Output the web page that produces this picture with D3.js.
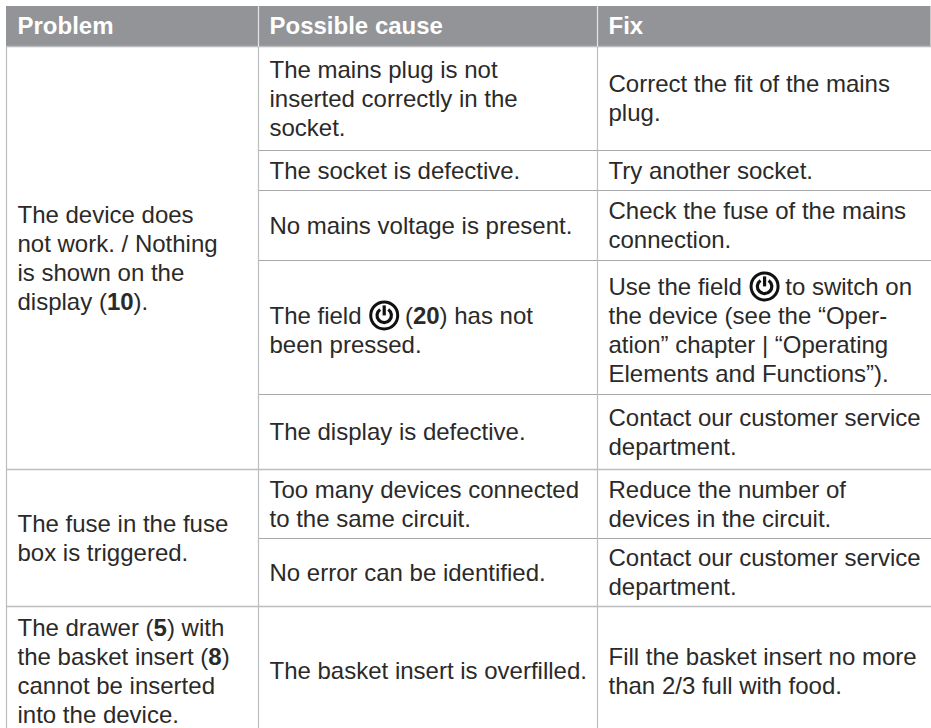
<!DOCTYPE html>
<html>
<head>
<meta charset="utf-8">
<script src="https://cdn.jsdelivr.net/npm/d3@7"></script>
<style>
html, body { margin: 0; padding: 0; background: #fff; }
svg { display: block; }
text { font-family: "Liberation Sans", Arial, sans-serif; }
</style>
</head>
<body>
<div id="chart"></div>
<script>
// table contents, {p} marks the power icon and *x* marks bold
var headers = ['Problem', 'Possible cause', 'Fix'];
var problems = [
    ['The device does', 'not work. / Nothing', 'is shown on the', 'display (*10*).'],
    ['The fuse in the fuse', 'box is triggered.'],
    ['The drawer (*5*) with', 'the basket insert (*8*)', 'cannot be inserted', 'into the device.']
];
var problemSpans = [[0, 5], [5, 7], [7, 8]];
var causes = [
    ['The mains plug is not', 'inserted correctly in the', 'socket.'],
    ['The socket is defective.'],
    ['No mains voltage is present.'],
    ['The field {p} (*20*) has not', 'been pressed.'],
    ['The display is defective.'],
    ['Too many devices connected', 'to the same circuit.'],
    ['No error can be identified.'],
    ['The basket insert is overfilled.']
];
var fixes = [
    ['Correct the fit of the mains', 'plug.'],
    ['Try another socket.'],
    ['Check the fuse of the mains', 'connection.'],
    ['Use the field {p} to switch on', 'the device (see the \u201cOper-', 'ation\u201d chapter | \u201cOperating', 'Elements and Functions\u201d).'],
    ['Contact our customer service', 'department.'],
    ['Reduce the number of', 'devices in the circuit.'],
    ['Contact our customer service', 'department.'],
    ['Fill the basket insert no more', 'than 2/3 full with food.']
];

// layout
var width = 931, height = 728;
var colEdges = [6.5, 258.5, 597.5, 931];
var rowEdges = [46.5, 150.5, 190.5, 260.5, 394.5, 469.5, 538.5, 606.5, 735];
var headerTop = 6;
var padX = 11;
var lineH = 29;
var fontSize = 24;
var iconR = 15;
var iconShift = 3; // the icon makes its line taller, pushing the block down
var textColor = '#2b2a29';
var lineColor = '#a7a8ab';
var groupColor = '#bcbdbf';

var col = d3.scaleOrdinal().domain([0, 1, 2]).range(colEdges.slice(0, 3));
var rowY = d3.scaleLinear().domain(d3.range(rowEdges.length)).range(rowEdges);

var svg = d3.select('#chart').append('svg')
    .attr('width', width)
    .attr('height', height);

// header band
svg.append('rect')
    .attr('x', colEdges[0] - 0.5)
    .attr('y', headerTop)
    .attr('width', width - colEdges[0])
    .attr('height', rowEdges[0] - headerTop)
    .attr('fill', '#929497');

svg.selectAll('.head')
    .data(headers)
    .enter()
    .append('text')
    .attr('class', 'head')
    .attr('x', function(d, i) { return col(i) + padX; })
    .attr('y', 34)
    .attr('fill', '#fff')
    .attr('font-size', fontSize)
    .attr('font-weight', 'bold')
    .text(function(d) { return d; });

// grid lines
var hLines = [];
rowEdges.slice(0, -1).forEach(function(y, i) {
    // rows inside a problem group leave the first column open
    var starts = problemSpans.some(function(s) { return s[0] === i; });
    hLines.push({x1: starts ? colEdges[0] : colEdges[1], y: y, group: starts});
});

svg.selectAll('.hline')
    .data(hLines)
    .enter()
    .append('line')
    .attr('class', 'hline')
    .attr('x1', function(d) { return d.x1; })
    .attr('x2', width)
    .attr('y1', function(d) { return d.y; })
    .attr('y2', function(d) { return d.y; })
    .attr('stroke', function(d) { return d.group ? groupColor : lineColor; })
    .attr('stroke-width', function(d) { return d.group ? 1.6 : 1; });

svg.selectAll('.vline')
    .data(colEdges.slice(0, 3))
    .enter()
    .append('line')
    .attr('class', 'vline')
    .attr('x1', function(d) { return d; })
    .attr('x2', function(d) { return d; })
    .attr('y1', rowEdges[0])
    .attr('y2', height)
    .attr('stroke', groupColor)
    .attr('stroke-width', 1.2);

// pale separators inside the header band
svg.selectAll('.hsep')
    .data(colEdges.slice(1, 3))
    .enter()
    .append('line')
    .attr('class', 'hsep')
    .attr('x1', function(d) { return d; })
    .attr('x2', function(d) { return d; })
    .attr('y1', headerTop)
    .attr('y2', rowEdges[0])
    .attr('stroke', '#e4e4e6')
    .attr('stroke-width', 1.2);

// writes one line piece by piece so bold runs and icons can sit inline
function drawLine(parent, line, x, y) {
    var parts = line.split(/(\{p\}|\*[^*]+\*)/).filter(function(s) { return s.length; });
    var cur = x;
    parts.forEach(function(part) {
        if (part === '{p}') {
            drawIcon(parent, cur + iconR + 1, y - 9);
            cur += iconR * 2;
            return;
        }
        var bold = part[0] === '*';
        var t = parent.append('text')
            .attr('x', cur)
            .attr('y', y)
            .attr('fill', textColor)
            .attr('font-size', fontSize)
            .attr('font-weight', bold ? 'bold' : 'normal')
            .attr('xml:space', 'preserve')
            .style('white-space', 'pre')
            .text(bold ? part.slice(1, -1) : part);
        cur += t.node().getComputedTextLength();
    });
}

function drawIcon(parent, cx, cy) {
    var g = parent.append('g').attr('transform', 'translate(' + cx + ',' + cy + ')');
    g.append('circle')
        .attr('r', iconR - 1.5)
        .attr('fill', 'none')
        .attr('stroke', '#111')
        .attr('stroke-width', 3);
    g.append('path')
        .attr('d', d3.arc()({
            innerRadius: 5.6,
            outerRadius: 8.8,
            startAngle: 0.6,
            endAngle: 2 * Math.PI - 0.6
        }))
        .attr('fill', '#111');
    g.append('line')
        .attr('y1', -10)
        .attr('y2', 0)
        .attr('stroke', '#111')
        .attr('stroke-width', 3.2);
}

function drawCell(lines, x, top, bottom) {
    var g = svg.append('g');
    var hasIcon = lines.some(function(l) { return l.indexOf('{p}') >= 0; });
    // baseline of the first line so the block is centred in the cell
    var y0 = (top + bottom) / 2 - (lines.length - 1) * lineH / 2 + fontSize * 0.35;
    if (hasIcon) {
        y0 += iconShift;
    }
    lines.forEach(function(line, i) {
        drawLine(g, line, x + padX, y0 + i * lineH);
    });
}

problems.forEach(function(lines, i) {
    var s = problemSpans[i];
    drawCell(lines, colEdges[0], rowY(s[0]), rowY(s[1]));
});
causes.forEach(function(lines, i) {
    drawCell(lines, colEdges[1], rowY(i), rowY(i + 1));
});
fixes.forEach(function(lines, i) {
    drawCell(lines, colEdges[2], rowY(i), rowY(i + 1));
});
</script>
</body>
</html>
